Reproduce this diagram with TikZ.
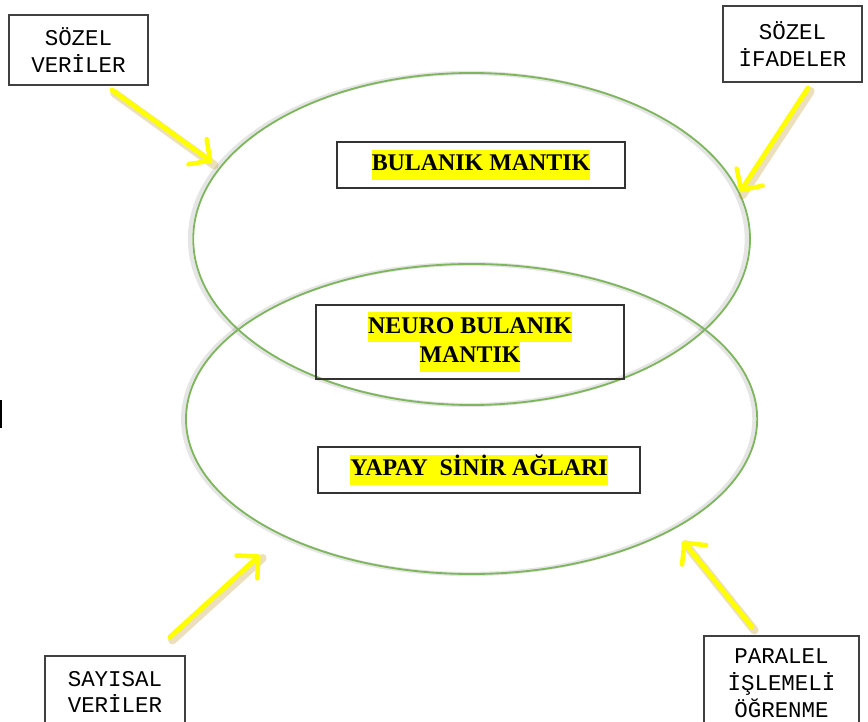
\documentclass[tikz,border=0pt]{standalone}
\usepackage{fontspec}
\setmainfont{Liberation Serif}
\newfontfamily\labelfont{Liberation Mono}
\usepackage{xcolor}
\usetikzlibrary{arrows.meta}
\definecolor{ringgreen}{RGB}{125,182,92}
\definecolor{hly}{RGB}{255,255,0}
\definecolor{arrglow}{RGB}{190,150,40}
\newcommand{\hlt}[1]{{\setlength{\fboxsep}{0pt}\colorbox{hly}{\strut #1}}}

\begin{document}
\begin{tikzpicture}[
  outbox/.style={draw=black!75, line width=0.8pt, align=center, font=\labelfont\fontsize{16}{19}\selectfont},
  inbox/.style={draw=black!80, line width=1pt, align=center, font=\bfseries\fontsize{17}{21}\selectfont},
  ring/.style={draw=ringgreen, line width=1.3pt},
  ringshadow/.style={draw=black, opacity=0.1, line width=3pt},
  arr/.style={draw=hly, line width=3.5pt, line cap=round, -{Straight Barb[length=11pt,width=22pt,line width=3.2pt,round]}},
  glow/.style={draw=arrglow, opacity=0.3, line width=6pt, line cap=round}
]
  \useasboundingbox (0,0) rectangle (21.7,-18.05);
  \draw[line width=1.2pt] (0.03,-10.0) -- (0.03,-10.7);

  \draw[ringshadow] (11.71,-5.975) ellipse [x radius=6.96, y radius=4.15];
  \draw[ringshadow] (11.72,-10.475) ellipse [x radius=7.14, y radius=3.875];
  \draw[ring] (11.79,-5.975) ellipse [x radius=6.96, y radius=4.15];
  \draw[ring] (11.79,-10.475) ellipse [x radius=7.14, y radius=3.875];

  \node[outbox, minimum width=3.475cm, minimum height=1.75cm] (sv) at (1.9625,-1.25) {SÖZEL\\VERİLER};
  \node[outbox, minimum width=3.475cm, minimum height=1.9cm] (si) at (19.8125,-1.1) {SÖZEL\\İFADELER};
  \node[outbox, minimum width=3.5cm, minimum height=1.8cm] (sy) at (2.875,-17.3) {SAYISAL\\VERİLER};
  \node[outbox, minimum width=3.875cm, minimum height=2.35cm] (pi) at (19.5375,-17.075) {PARALEL\\İŞLEMELİ\\ÖĞRENME};

  \node[inbox, minimum width=7.2cm, minimum height=1.15cm] (bm) at (12.025,-4.125) {\hlt{BULANIK MANTIK}};
  \node[inbox, minimum width=7.7cm, minimum height=1.85cm] (nb) at (11.75,-8.55) {\hlt{NEURO BULANIK}\\\hlt{MANTIK}};
  \node[inbox, minimum width=8.05cm, minimum height=1.15cm] (ys) at (11.975,-11.75) {\hlt{YAPAY\ \ SİNİR AĞLARI}};

  \coordinate (svtail) at (2.8,-2.25);
  \coordinate (svtip) at (5.3,-4.05);
  \coordinate (sitail) at (20.2,-2.2);
  \coordinate (sitip) at (18.5,-4.8);
  \coordinate (sytail) at (4.25,-15.925);
  \coordinate (sytip) at (6.5,-13.875);
  \coordinate (pitail) at (18.8,-15.675);
  \coordinate (pitip) at (17.075,-13.525);

  \draw[glow] ([shift={(0.06,-0.08)}]svtail) -- ([shift={(0.06,-0.08)}]svtip);
  \draw[glow] ([shift={(0.06,-0.08)}]sitail) -- ([shift={(0.06,-0.08)}]sitip);
  \draw[glow] ([shift={(0.06,-0.08)}]sytail) -- ([shift={(0.06,-0.08)}]sytip);
  \draw[glow] ([shift={(0.06,-0.08)}]pitail) -- ([shift={(0.06,-0.08)}]pitip);
  \draw[arr] (svtail) -- (svtip);
  \draw[arr] (sitail) -- (sitip);
  \draw[arr] (sytail) -- (sytip);
  \draw[arr] (pitail) -- (pitip);
\end{tikzpicture}
\end{document}
